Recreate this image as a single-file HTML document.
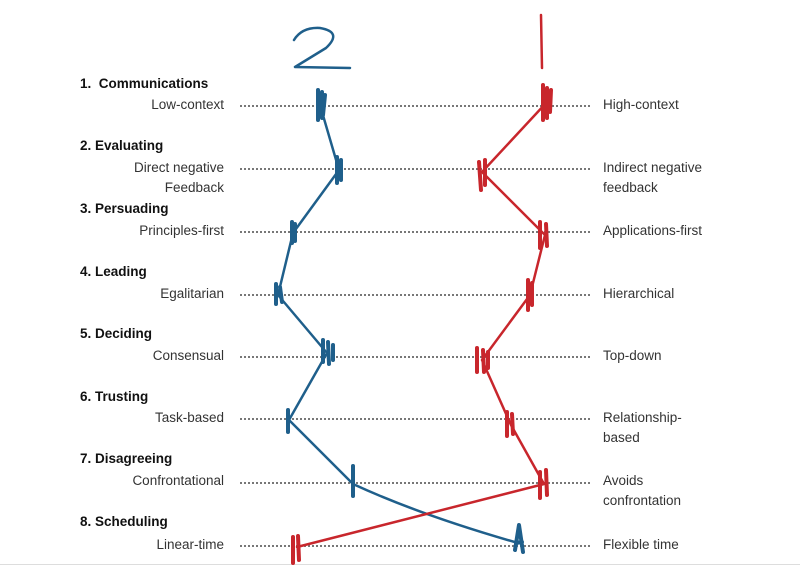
<!DOCTYPE html>
<html><head><style>
body{margin:0;background:#fff;width:800px;height:576px;overflow:hidden;font-family:"Liberation Sans",sans-serif;}
.h{position:absolute;left:80px;font-weight:bold;font-size:13.5px;color:#111;}
.l{position:absolute;right:576px;font-size:13.5px;color:#333;text-align:right;line-height:20px;}
.r{position:absolute;left:603px;font-size:13.5px;color:#333;line-height:20px;}
.d{position:absolute;left:240px;width:350px;border-top:2px dotted #777;}
</style></head><body>
<div class="h" style="top:76px">1.&nbsp; Communications</div>
<div class="h" style="top:138px">2. Evaluating</div>
<div class="h" style="top:201px">3. Persuading</div>
<div class="h" style="top:264px">4. Leading</div>
<div class="h" style="top:326px">5. Deciding</div>
<div class="h" style="top:389px">6. Trusting</div>
<div class="h" style="top:451px">7. Disagreeing</div>
<div class="h" style="top:514px">8. Scheduling</div>

<div class="l" style="top:95px">Low-context</div>
<div class="l" style="top:158px">Direct negative<br>Feedback</div>
<div class="l" style="top:221px">Principles-first</div>
<div class="l" style="top:284px">Egalitarian</div>
<div class="l" style="top:346px">Consensual</div>
<div class="l" style="top:408px">Task-based</div>
<div class="l" style="top:471px">Confrontational</div>
<div class="l" style="top:535px">Linear-time</div>

<div class="r" style="top:95px">High-context</div>
<div class="r" style="top:158px">Indirect negative<br>feedback</div>
<div class="r" style="top:221px">Applications-first</div>
<div class="r" style="top:284px">Hierarchical</div>
<div class="r" style="top:346px">Top-down</div>
<div class="r" style="top:408px">Relationship-<br>based</div>
<div class="r" style="top:471px">Avoids<br>confrontation</div>
<div class="r" style="top:535px">Flexible time</div>

<div class="d" style="top:105px"></div>
<div class="d" style="top:168px"></div>
<div class="d" style="top:231px"></div>
<div class="d" style="top:294px"></div>
<div class="d" style="top:356px"></div>
<div class="d" style="top:418px"></div>
<div class="d" style="top:482px"></div>
<div class="d" style="top:545px"></div>
<div style="position:absolute;left:0;top:564px;width:800px;border-top:1px solid #ddd"></div>

<svg width="800" height="576" style="position:absolute;left:0;top:0" fill="none" stroke-linecap="round" stroke-linejoin="round">
<g stroke="#1f5f8b" stroke-width="2.5">
<path d="M294 40 Q302 27 320 28 Q343 32 326 48 L295 67 L350 68"/>
<path d="M320,105 L339,170 L293,233 L278,295 L327,353 L289,420 L353,484 Q420,515 518,543"/>
<g stroke-width="4">
<path d="M318 90 L318 120 M322 92 L322 118 M325 95 L323 115"/>
<path d="M337 157 L337 183 M341 160 L341 180"/>
<path d="M292 222 L292 243 M295 224 L295 241"/>
<path d="M276 284 L276 304 M280 287 L282 302"/>
<path d="M323 340 L323 362 M328 342 L329 364 M333 345 L333 360"/>
<path d="M288 410 L288 432"/>
<path d="M353 466 L353 496"/>
<path d="M515 550 L519 525 L523 552 M516 543 L522 542"/>
</g></g>
<g stroke="#c8262c" stroke-width="2.5">
<path d="M541 15 L542 68"/>
<path d="M547,102 L482,172 L545,235 L530,295 L482,360 L511,425 L544,484 Q450,508 297,547"/>
<g stroke-width="4">
<path d="M543 85 L543 120 M547 88 L547 118 M551 90 L550 112"/>
<path d="M479 162 L481 190 M485 160 L485 185"/>
<path d="M540 222 L540 248 M546 224 L547 246"/>
<path d="M528 280 L528 310 M532 283 L532 305"/>
<path d="M477 348 L477 372 M483 350 L484 372 M488 352 L488 368"/>
<path d="M507 412 L507 436 M512 414 L513 434"/>
<path d="M540 472 L540 498 M546 470 L547 495"/>
<path d="M293 537 L293 563 M298 536 L299 560"/>
</g></g>
</svg>
</body></html>
